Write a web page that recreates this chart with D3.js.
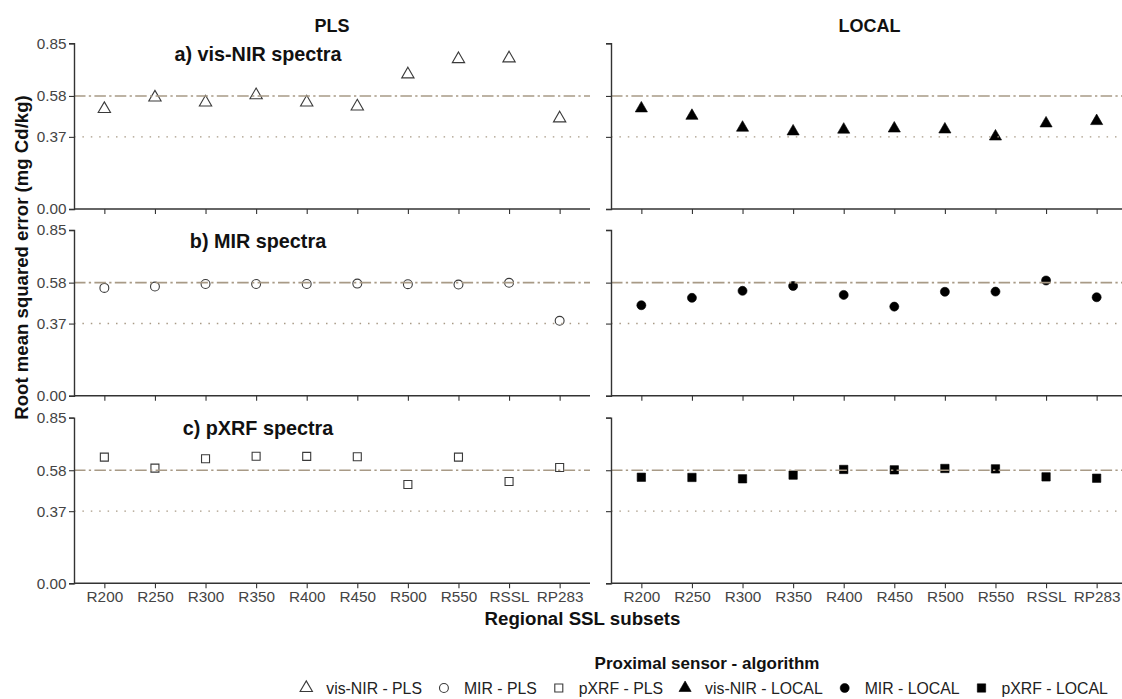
<!DOCTYPE html>
<html>
<head>
<meta charset="utf-8">
<script src="https://cdn.jsdelivr.net/npm/d3@7"></script>
<style>
  body { margin: 0; background: #fff; }
  svg { display: block; }
  text { font-family: "Liberation Sans", Arial, Helvetica, sans-serif; }
</style>
</head>
<body>
<svg id="chart" width="1122" height="699"></svg>
<script>
// Regional SSL subsets on the x axis
const subsets = ["R200", "R250", "R300", "R350", "R400", "R450", "R500", "R550", "RSSL", "RP283"];
const yTickValues = [0, 0.37, 0.58, 0.85];
const yTickLabels = ["0.00", "0.37", "0.58", "0.85"];
const algorithms = ["PLS", "LOCAL"];
const sensors = ["vis-NIR", "MIR", "pXRF"];
const panelTitles = ["a) vis-NIR spectra", "b) MIR spectra", "c) pXRF spectra"];

// RMSE (mg Cd/kg) per subset
const visnirPLS   = [0.513, 0.572, 0.547, 0.584, 0.547, 0.526, 0.691, 0.769, 0.773, 0.465];
const visnirLOCAL = [0.516, 0.478, 0.417, 0.398, 0.407, 0.413, 0.408, 0.372, 0.439, 0.451];
const mirPLS      = [0.553, 0.560, 0.573, 0.573, 0.573, 0.575, 0.572, 0.570, 0.579, 0.384];
const mirLOCAL    = [0.464, 0.502, 0.538, 0.563, 0.517, 0.457, 0.533, 0.534, 0.591, 0.505];
const pxrfPLS     = [0.647, 0.591, 0.639, 0.652, 0.651, 0.649, 0.507, 0.647, 0.522, 0.594];
const pxrfLOCAL   = [0.544, 0.543, 0.536, 0.555, 0.584, 0.582, 0.589, 0.587, 0.546, 0.539];

// reference levels drawn across every panel
const refDotDash = 0.58;
const refDotted = 0.37;

const seriesGrid = [
  [visnirPLS, visnirLOCAL],
  [mirPLS, mirLOCAL],
  [pxrfPLS, pxrfLOCAL]
];

const legendTitle = "Proximal sensor - algorithm";
const legendLabels = ["vis-NIR - PLS", "MIR - PLS", "pXRF - PLS", "vis-NIR - LOCAL", "MIR - LOCAL", "pXRF - LOCAL"];

// ---- layout ----
const svg = d3.select("#chart");
const colRanges = [[74, 590], [611, 1127]];
const rowRanges = [[43.3, 209], [230, 395.7], [417.6, 583.3]];

const axisColor = "#333333";
const tickTextColor = "#444444";
const titleColor = "#111111";
const refColor = "#a89a86";

const shapeTypes = [d3.symbolTriangle, d3.symbolCircle, d3.symbolSquare];
const openSizes = [66, 62, 64];
const filledSizes = [64, 64, 70];

function marker(sel, sensorIdx, filled) {
  const gen = d3.symbol().type(shapeTypes[sensorIdx]).size(filled ? filledSizes[sensorIdx] : openSizes[sensorIdx]);
  sel.attr("d", gen)
    .attr("fill", filled ? "#000" : "none")
    .attr("stroke", filled ? "#000" : "#3a3a3a")
    .attr("stroke-width", filled ? 0.6 : 1.1);
}

sensors.forEach((sensor, r) => {
  algorithms.forEach((alg, c) => {
    const x = d3.scalePoint().domain(subsets).range(colRanges[c]).padding(0.6);
    const y = d3.scaleLinear().domain([0, 0.85]).range([rowRanges[r][1], rowRanges[r][0]]);
    const g = svg.append("g");

    // points
    const vals = seriesGrid[r][c];
    g.selectAll("path.pt").data(subsets).join("path")
      .attr("class", "pt")
      .attr("transform", (d, i) => `translate(${x(d)},${y(vals[i])})`)
      .call(marker, r, c === 1);

    // reference lines, drawn over the points
    g.append("line")
      .attr("x1", colRanges[c][0]).attr("x2", colRanges[c][1])
      .attr("y1", y(refDotDash)).attr("y2", y(refDotDash))
      .attr("stroke", refColor).attr("stroke-width", 1.6)
      .attr("stroke-dasharray", "11.5,3.3,2.3,3.3");
    g.append("line")
      .attr("x1", colRanges[c][0]).attr("x2", colRanges[c][1])
      .attr("y1", y(refDotted)).attr("y2", y(refDotted))
      .attr("stroke", refColor).attr("stroke-width", 1.4)
      .attr("stroke-dasharray", "1.5,6.9");

    // y axis
    const yAxis = d3.axisLeft(y).tickValues(yTickValues).tickSize(5)
      .tickFormat((d, i) => c === 0 ? yTickLabels[i] : "");
    const ya = g.append("g").attr("transform", `translate(${colRanges[c][0]},0)`).call(yAxis);
    ya.select(".domain").attr("stroke", axisColor).attr("stroke-width", 1.4);
    ya.selectAll(".tick line").attr("stroke", axisColor).attr("stroke-width", 1.1);
    ya.selectAll(".tick text").attr("fill", tickTextColor).attr("font-size", 15.3)
      .attr("x", -7.5).attr("font-family", "Liberation Sans, Arial, sans-serif");

    // x axis
    const xAxis = d3.axisBottom(x).tickSize(5).tickSizeOuter(0)
      .tickFormat(d => r === 2 ? d : "");
    const xa = g.append("g").attr("transform", `translate(0,${rowRanges[r][1]})`).call(xAxis);
    xa.select(".domain").attr("stroke", axisColor).attr("stroke-width", 1.4)
      .attr("d", `M${colRanges[c][0]},0H${colRanges[c][1]}`);
    xa.selectAll(".tick line").attr("stroke", axisColor).attr("stroke-width", 1.1);
    xa.selectAll(".tick text").attr("fill", tickTextColor).attr("font-size", 15.3)
      .attr("y", 8).attr("font-family", "Liberation Sans, Arial, sans-serif");

    // panel annotation on the left column
    if (c === 0) {
      g.append("text")
        .attr("x", 258).attr("y", rowRanges[r][0] + 17.6)
        .attr("text-anchor", "middle").attr("font-weight", "bold").attr("font-size", 19.8)
        .attr("fill", titleColor).text(panelTitles[r]);
    }
  });
});

// column headers
algorithms.forEach((alg, c) => {
  svg.append("text")
    .attr("x", c === 0 ? 332 : 869.5)
    .attr("y", 31.5)
    .attr("text-anchor", "middle").attr("font-weight", "bold").attr("font-size", 18)
    .attr("fill", titleColor).text(alg);
});

// axis titles
svg.append("text")
  .attr("transform", "translate(27.5,257.5) rotate(-90)")
  .attr("text-anchor", "middle").attr("font-weight", "bold").attr("font-size", 18.6)
  .attr("fill", titleColor).text("Root mean squared error (mg Cd/kg)");

svg.append("text")
  .attr("x", 582.5).attr("y", 624.5)
  .attr("text-anchor", "middle").attr("font-weight", "bold").attr("font-size", 18.7)
  .attr("fill", titleColor).text("Regional SSL subsets");

// legend
const legendCX = 707;
svg.append("text")
  .attr("x", legendCX).attr("y", 669)
  .attr("text-anchor", "middle").attr("font-weight", "bold").attr("font-size", 17)
  .attr("fill", titleColor).text(legendTitle);

const legY = 688;
const legG = svg.append("g");
const items = legendLabels.map((lab, i) => ({ lab, sensor: i % 3, filled: i >= 3 }));
const texts = legG.selectAll("text").data(items).join("text")
  .attr("font-size", 15.8).attr("fill", "#222").attr("y", legY + 5.7).text(d => d.lab);
const widths = [];
texts.each(function () { widths.push(this.getComputedTextLength()); });
const symToText = 20, textToSym = 22;
const total = widths.reduce((a, w) => a + symToText + w + textToSym, 0) - textToSym;
let cursor = legendCX - total / 2;
const symX = [];
items.forEach((d, i) => {
  symX.push(cursor);
  d.tx = cursor + symToText;
  cursor = d.tx + widths[i] + textToSym;
});
texts.attr("x", d => d.tx);
legG.selectAll("path").data(items).join("path")
  .attr("transform", (d, i) => `translate(${symX[i]},${legY})`)
  .each(function (d) { d3.select(this).call(marker, d.sensor, d.filled); });
</script>
</body>
</html>
